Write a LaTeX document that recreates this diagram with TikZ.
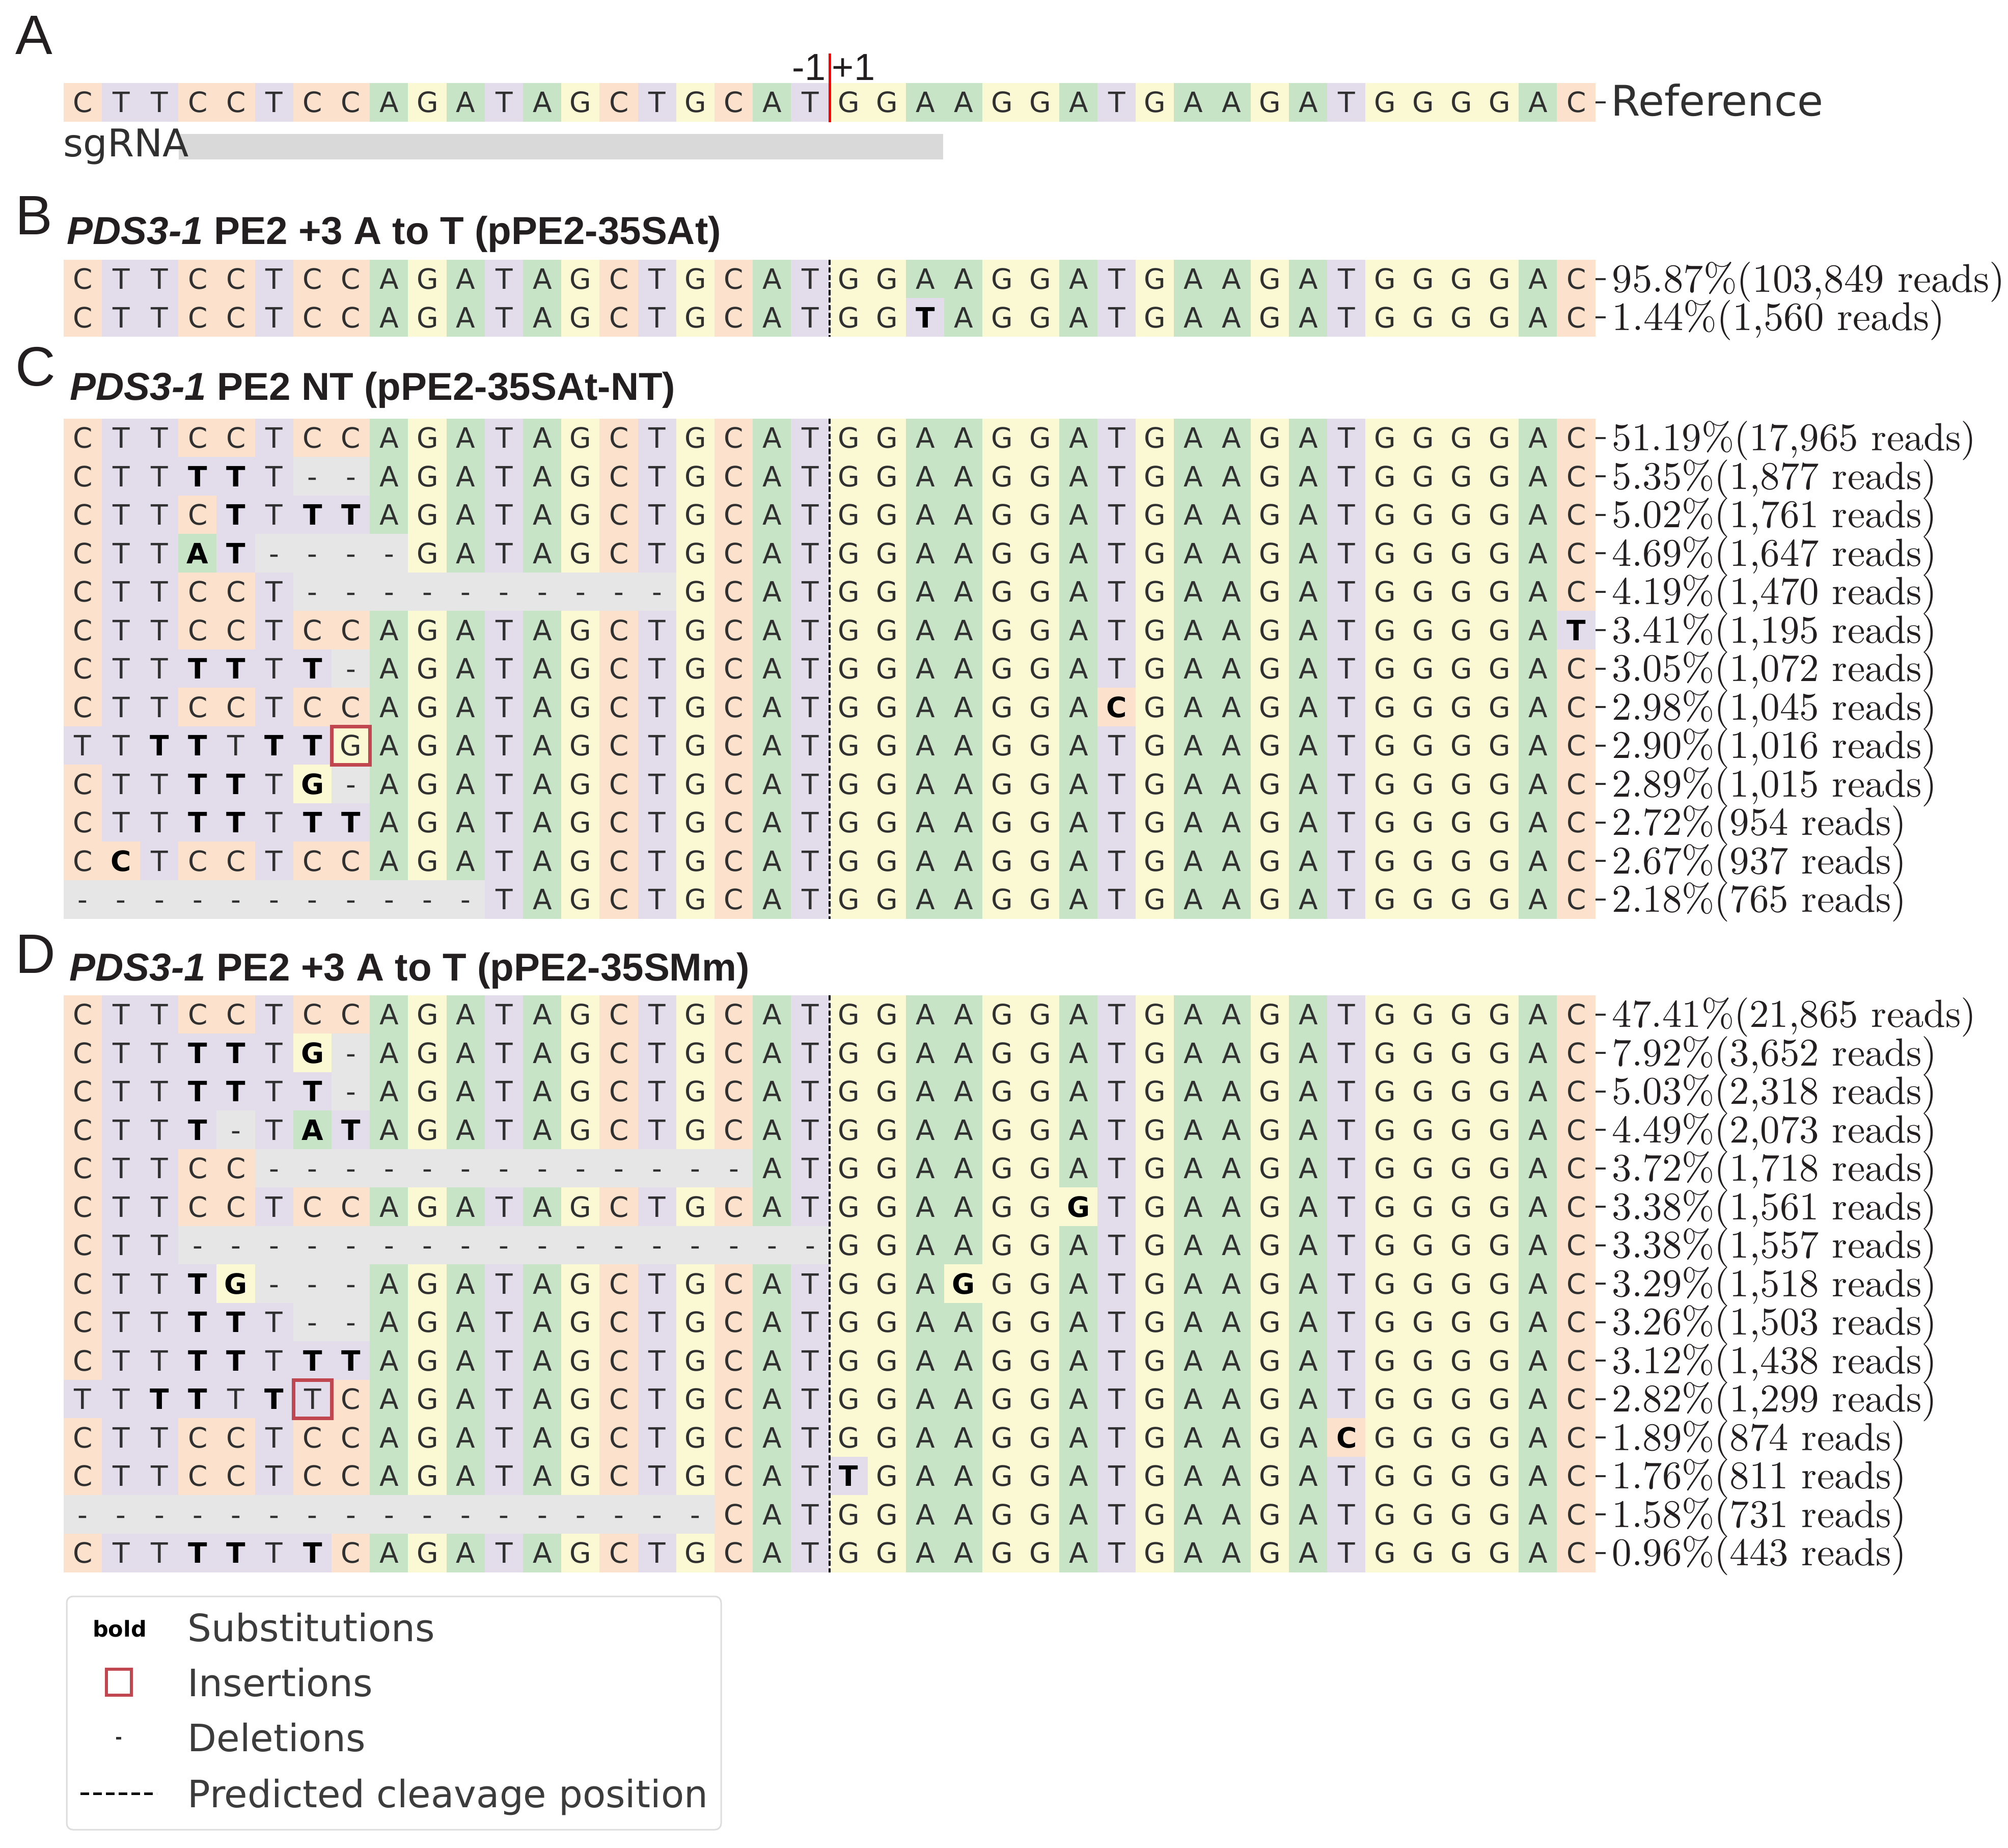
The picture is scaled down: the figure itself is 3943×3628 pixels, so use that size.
\documentclass[tikz,border=0pt]{standalone}
\usepackage{fontspec}
\newfontfamily\dvs{DejaVu Sans}
\newfontfamily\lsans{Liberation Sans}
\newfontfamily\pctfont{lmroman10-regular}[Extension=.otf]
\definecolor{cA}{HTML}{C7E4C7}
\definecolor{cT}{HTML}{E2DCEB}
\definecolor{cC}{HTML}{FCE2CC}
\definecolor{cG}{HTML}{FBF8D4}
\definecolor{cD}{HTML}{E6E6E6}
\definecolor{sgbar}{HTML}{D9D9D9}
\definecolor{txt}{HTML}{303030}
\definecolor{legtxt}{HTML}{3C3C3C}
\definecolor{ink}{HTML}{231F20}
\definecolor{insred}{HTML}{C0474F}
\definecolor{legborder}{HTML}{DDDDDD}

\newcount\colidx
\def\cellw{75.2}
\def\cellh{75.5}
\newcommand\nbase{\dvs\fontsize{13.75}{14}\selectfont}
\newcommand\nbold{\dvs\bfseries\fontsize{13.75}{14}\selectfont}

\tikzset{
  base letter/.style={inner sep=0pt, anchor=base},
  tickmark/.style={line width=1.1pt, draw=txt},
  pctlabel/.style={inner sep=0pt, anchor=base west, text=ink},
  hdr/.style={inner sep=0pt, anchor=base west, text=ink, font=\lsans\bfseries\fontsize{19.1}{20}\selectfont},
  plabel/.style={inner sep=0pt, anchor=base west, text=ink, font=\lsans\fontsize{27.25}{28}\selectfont},
  cleave/.style={draw=black, line width=1.05pt, dash pattern=on 2.6pt off 1.1pt},
  insbox/.style={draw=insred, line width=1.75pt},
  leg/.style={inner sep=0pt, anchor=base west, text=legtxt, font=\dvs\fontsize{18.5}{19}\selectfont},
}

\newcommand\docell[4]{%
  \pgfmathsetmacro\cx{125+\cellw*\the\colidx}%
  \fill[#1] (\cx-0.4,\rowtop-0.4) rectangle ++(\cellw+0.8,\cellh+0.8);%
  \node[base letter,font=#3,text=#4] (n\rowid-\the\colidx) at (\cx+0.5*\cellw,\rowtop+57.75) {#2};%
}
\expandafter\def\csname cellmap@A\endcsname{\docell{cA}{A}{\nbase}{txt}}
\expandafter\def\csname cellmap@C\endcsname{\docell{cC}{C}{\nbase}{txt}}
\expandafter\def\csname cellmap@G\endcsname{\docell{cG}{G}{\nbase}{txt}}
\expandafter\def\csname cellmap@T\endcsname{\docell{cT}{T}{\nbase}{txt}}
\expandafter\def\csname cellmap@a\endcsname{\docell{cA}{A}{\nbold}{black}}
\expandafter\def\csname cellmap@c\endcsname{\docell{cC}{C}{\nbold}{black}}
\expandafter\def\csname cellmap@g\endcsname{\docell{cG}{G}{\nbold}{black}}
\expandafter\def\csname cellmap@t\endcsname{\docell{cT}{T}{\nbold}{black}}
\expandafter\def\csname cellmap@-\endcsname{\docell{cD}{-}{\nbase}{txt}}

\makeatletter
\def\dorow#1{\ifx\relax#1\expandafter\@gobble\else\expandafter\@firstofone\fi
  {\csname cellmap@#1\endcsname\advance\colidx by 1\relax\dorow}}
\makeatother
\newcommand\drawrow[3]{\def\rowid{#1}\def\rowtop{#2}\colidx=0\relax\dorow#3\relax}
\newcommand\pct[4]{%
  \draw[tickmark] (3133,#2+37.75) -- (3153,#2+37.75);%
  \node[pctlabel,font=\pctfont\fontsize{#3}{#3}\selectfont] (p#1) at (3165,#2+37.75+1.288*#3) {#4};%
}

\begin{document}
\begin{tikzpicture}[x=0.25pt,y=-0.25pt]
\useasboundingbox (0,0) rectangle (3943,3628);
\fill[white] (0,0) rectangle (3943,3628);

% ---------- Panel A ----------
\node[plabel] (lA) at (30,107) {A};
\drawrow{R}{163}{CTTCCTCCAGATAGCTGCATGGAAGGATGAAGATGGGGAC}
\draw[tickmark] (3133,200.75) -- (3153,200.75);
\node[inner sep=0pt, anchor=base west, text=txt, font=\dvs\fontsize{20.7}{21}\selectfont] (ref) at (3163,228) {Reference};
\fill[sgbar] (351,263) rectangle (1852,313);
\node[inner sep=0pt, anchor=base west, text=txt, font=\dvs\fontsize{18.75}{19}\selectfont] (sg) at (124,308) {sgRNA};
\draw[red, line width=1.25pt] (1629,105) -- (1629,240);
\node[inner sep=0pt, anchor=base east, text=ink, font=\lsans\fontsize{18.5}{19}\selectfont] (mone) at (1622,158) {-1};
\node[inner sep=0pt, anchor=base west, text=ink, font=\lsans\fontsize{18.5}{19}\selectfont] (pone) at (1633,158) {+1};

% ---------- Panel B ----------
\node[plabel] (lB) at (30,460) {B};
\node[hdr] (hB) at (131,480) {\textit{PDS3-1} PE2 +3 A to T (pPE2-35SAt)};
\drawrow{B1}{510}{CTTCCTCCAGATAGCTGCATGGAAGGATGAAGATGGGGAC}
\drawrow{B2}{585.5}{CTTCCTCCAGATAGCTGCATGGtAGGATGAAGATGGGGAC}
\pct{B1}{510}{19.7}{95.87\%(103,849 reads)}
\pct{B2}{585.5}{19.7}{1.44\%(1,560 reads)}
\draw[cleave] (1629,510) -- (1629,661);

% ---------- Panel C ----------
\node[plabel] (lC) at (30,757) {C};
\node[hdr] (hC) at (137,785) {\textit{PDS3-1} PE2 NT (pPE2-35SAt-NT)};
\drawrow{C1}{822}{CTTCCTCCAGATAGCTGCATGGAAGGATGAAGATGGGGAC}
\drawrow{C2}{897.5}{CTTttT--AGATAGCTGCATGGAAGGATGAAGATGGGGAC}
\drawrow{C3}{973}{CTTCtTttAGATAGCTGCATGGAAGGATGAAGATGGGGAC}
\drawrow{C4}{1048.5}{CTTat----GATAGCTGCATGGAAGGATGAAGATGGGGAC}
\drawrow{C5}{1124}{CTTCCT----------GCATGGAAGGATGAAGATGGGGAC}
\drawrow{C6}{1199.5}{CTTCCTCCAGATAGCTGCATGGAAGGATGAAGATGGGGAt}
\drawrow{C7}{1275}{CTTttTt-AGATAGCTGCATGGAAGGATGAAGATGGGGAC}
\drawrow{C8}{1350.5}{CTTCCTCCAGATAGCTGCATGGAAGGAcGAAGATGGGGAC}
\drawrow{C9}{1426}{TTttTttGAGATAGCTGCATGGAAGGATGAAGATGGGGAC}
\drawrow{C10}{1501.5}{CTTttTg-AGATAGCTGCATGGAAGGATGAAGATGGGGAC}
\drawrow{C11}{1577}{CTTttTttAGATAGCTGCATGGAAGGATGAAGATGGGGAC}
\drawrow{C12}{1652.5}{CcTCCTCCAGATAGCTGCATGGAAGGATGAAGATGGGGAC}
\drawrow{C13}{1728}{-----------TAGCTGCATGGAAGGATGAAGATGGGGAC}
\pct{C1}{822}{19.25}{51.19\%(17,965 reads)}
\pct{C2}{897.5}{19.25}{5.35\%(1,877 reads)}
\pct{C3}{973}{19.25}{5.02\%(1,761 reads)}
\pct{C4}{1048.5}{19.25}{4.69\%(1,647 reads)}
\pct{C5}{1124}{19.25}{4.19\%(1,470 reads)}
\pct{C6}{1199.5}{19.25}{3.41\%(1,195 reads)}
\pct{C7}{1275}{19.25}{3.05\%(1,072 reads)}
\pct{C8}{1350.5}{19.25}{2.98\%(1,045 reads)}
\pct{C9}{1426}{19.25}{2.90\%(1,016 reads)}
\pct{C10}{1501.5}{19.25}{2.89\%(1,015 reads)}
\pct{C11}{1577}{19.25}{2.72\%(954 reads)}
\pct{C12}{1652.5}{19.25}{2.67\%(937 reads)}
\pct{C13}{1728}{19.25}{2.18\%(765 reads)}
\draw[cleave] (1629,822) -- (1629,1803.5);
\draw[insbox] (651.4,1426) rectangle ++(75.2,75.5);

% ---------- Panel D ----------
\node[plabel] (lD) at (30,1910) {D};
\node[hdr] (hD) at (136,1925) {\textit{PDS3-1} PE2 +3 A to T (pPE2-35SMm)};
\drawrow{D1}{1954}{CTTCCTCCAGATAGCTGCATGGAAGGATGAAGATGGGGAC}
\drawrow{D2}{2029.5}{CTTttTg-AGATAGCTGCATGGAAGGATGAAGATGGGGAC}
\drawrow{D3}{2105}{CTTttTt-AGATAGCTGCATGGAAGGATGAAGATGGGGAC}
\drawrow{D4}{2180.5}{CTTt-TatAGATAGCTGCATGGAAGGATGAAGATGGGGAC}
\drawrow{D5}{2256}{CTTCC-------------ATGGAAGGATGAAGATGGGGAC}
\drawrow{D6}{2331.5}{CTTCCTCCAGATAGCTGCATGGAAGGgTGAAGATGGGGAC}
\drawrow{D7}{2407}{CTT-----------------GGAAGGATGAAGATGGGGAC}
\drawrow{D8}{2482.5}{CTTtg---AGATAGCTGCATGGAgGGATGAAGATGGGGAC}
\drawrow{D9}{2558}{CTTttT--AGATAGCTGCATGGAAGGATGAAGATGGGGAC}
\drawrow{D10}{2633.5}{CTTttTttAGATAGCTGCATGGAAGGATGAAGATGGGGAC}
\drawrow{D11}{2709}{TTttTtTCAGATAGCTGCATGGAAGGATGAAGATGGGGAC}
\drawrow{D12}{2784.5}{CTTCCTCCAGATAGCTGCATGGAAGGATGAAGAcGGGGAC}
\drawrow{D13}{2860}{CTTCCTCCAGATAGCTGCATtGAAGGATGAAGATGGGGAC}
\drawrow{D14}{2935.5}{-----------------CATGGAAGGATGAAGATGGGGAC}
\drawrow{D15}{3011}{CTTttTtCAGATAGCTGCATGGAAGGATGAAGATGGGGAC}
\pct{D1}{1954}{19.25}{47.41\%(21,865 reads)}
\pct{D2}{2029.5}{19.25}{7.92\%(3,652 reads)}
\pct{D3}{2105}{19.25}{5.03\%(2,318 reads)}
\pct{D4}{2180.5}{19.25}{4.49\%(2,073 reads)}
\pct{D5}{2256}{19.25}{3.72\%(1,718 reads)}
\pct{D6}{2331.5}{19.25}{3.38\%(1,561 reads)}
\pct{D7}{2407}{19.25}{3.38\%(1,557 reads)}
\pct{D8}{2482.5}{19.25}{3.29\%(1,518 reads)}
\pct{D9}{2558}{19.25}{3.26\%(1,503 reads)}
\pct{D10}{2633.5}{19.25}{3.12\%(1,438 reads)}
\pct{D11}{2709}{19.25}{2.82\%(1,299 reads)}
\pct{D12}{2784.5}{19.25}{1.89\%(874 reads)}
\pct{D13}{2860}{19.25}{1.76\%(811 reads)}
\pct{D14}{2935.5}{19.25}{1.58\%(731 reads)}
\pct{D15}{3011}{19.25}{0.96\%(443 reads)}
\draw[cleave] (1629,1954) -- (1629,3086.5);
\draw[insbox] (576.2,2709) rectangle ++(75.2,75.5);

% ---------- Legend ----------
\draw[legborder, line width=0.75pt, rounded corners=3pt] (131,3134) rectangle (1416,3592);
\node[inner sep=0pt, anchor=base, text=black, font=\dvs\bfseries\fontsize{10.75}{11}\selectfont] (lgbold) at (235,3213) {bold};
\node[leg] (lgsub) at (368,3222) {Substitutions};
\draw[insbox, line width=1.5pt] (209,3277) rectangle (258,3328);
\node[leg] (lgins) at (368,3330) {Insertions};
\fill[txt] (228,3410) rectangle (238,3415);
\node[leg] (lgdel) at (368,3438) {Deletions};
\draw[draw=black, line width=1.25pt, dash pattern=on 4.25pt off 2pt] (158,3521) -- (308,3521);
\node[leg] (lgcut) at (368,3548) {Predicted cleavage position};
\end{tikzpicture}
\end{document}
